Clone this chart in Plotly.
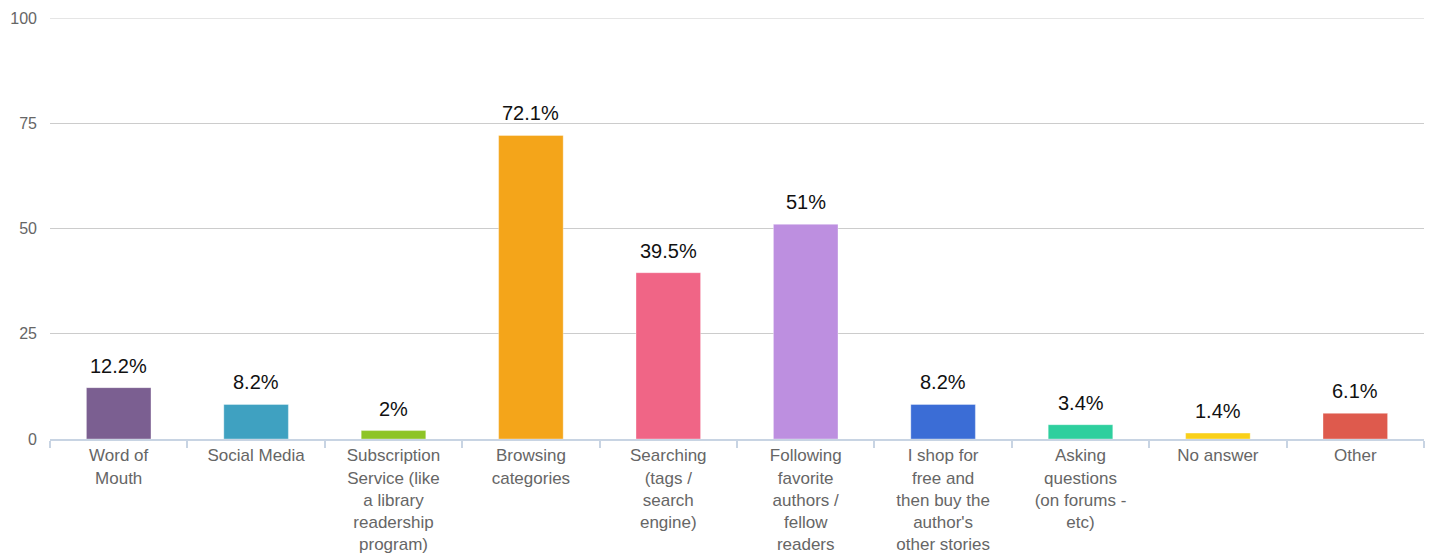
import plotly.graph_objects as go

categories = [
    "Word of<br>Mouth",
    "Social Media",
    "Subscription<br>Service (like<br>a library<br>readership<br>program)",
    "Browsing<br>categories",
    "Searching<br>(tags /<br>search<br>engine)",
    "Following<br>favorite<br>authors /<br>fellow<br>readers",
    "I shop for<br>free and<br>then buy the<br>author's<br>other stories",
    "Asking<br>questions<br>(on forums -<br>etc)",
    "No answer",
    "Other",
]
values = [12.2, 8.2, 2, 72.1, 39.5, 51, 8.2, 3.4, 1.4, 6.1]
value_labels = ["12.2%", "8.2%", "2%", "72.1%", "39.5%", "51%", "8.2%", "3.4%", "1.4%", "6.1%"]
colors = ["#7b5f91", "#3fa1c1", "#8dc426", "#f4a51a", "#f06586", "#bd8fe0",
          "#3b6dd6", "#2ecf9e", "#f9d01a", "#de5a4d"]
y_ticks = [0, 25, 50, 75, 100]

fig = go.Figure()
fig.add_trace(go.Bar(
    x=categories, y=values,
    marker=dict(color=colors, line=dict(color="rgba(255,255,255,0.35)", width=1)),
    width=0.47,
    hoverinfo="skip",
))

for c, v, t in zip(categories, values, value_labels):
    fig.add_annotation(x=c, y=v, text=t, showarrow=False, yanchor="bottom",
                       yshift=9, font=dict(size=20, color="#111111",
                                           family="Liberation Sans, Arial, sans-serif"))

# top gridline at 100 (drawn explicitly so it is not lost at the plot edge)
fig.add_shape(type="line", xref="paper", x0=0, x1=1, yref="y", y0=y_ticks[-1], y1=y_ticks[-1],
              line=dict(color="#cccccc", width=1), layer="below")

fig.update_layout(
    width=1434, height=555,
    margin=dict(l=50, r=10, t=18, b=116),
    paper_bgcolor="white", plot_bgcolor="white",
    showlegend=False,
    font=dict(family="Liberation Sans, Arial, sans-serif", size=17, color="#666666"),
    bargap=0.53,
)
fig.update_xaxes(
    showgrid=False, showline=True, linecolor="#c8d4e3", linewidth=2,
    ticks="outside", tickson="boundaries", ticklen=7, tickcolor="#c8d4e3", tickwidth=2,
    tickfont=dict(size=17, color="#666666"), fixedrange=True, automargin=False,
)
fig.update_yaxes(
    range=[0, 100], tickvals=y_ticks, showgrid=True, gridcolor="#cccccc", gridwidth=1,
    zeroline=False, showline=False, ticks="", ticklabelstandoff=12,
    tickfont=dict(size=16, color="#666666"), fixedrange=True, automargin=False,
)

fig.write_html("out.html", config={"displayModeBar": False},
               post_script="document.body.style.margin='0px';document.body.style.overflow='hidden';")
